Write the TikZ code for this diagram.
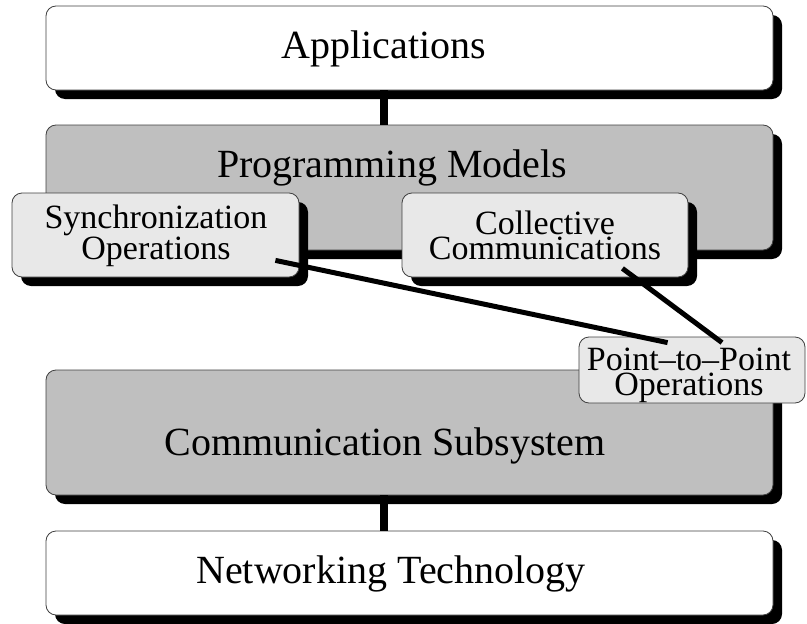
\documentclass[tikz,border=0pt]{standalone}
\usepackage{fontspec}
\setmainfont{Liberation Serif}
\usetikzlibrary{shadows}
\begin{document}
\begin{tikzpicture}[x=1pt, y=-1pt,
  layer/.style={draw=black!75, line width=0.8pt, rounded corners=10pt, inner sep=0pt},
  shadowed/.style={drop shadow={shadow xshift=9pt, shadow yshift=-9pt, fill=black, opacity=1}},
  bigbox/.style={layer, shadowed, minimum width=727pt},
  smallbox/.style={layer, fill=gray!18},
  big/.style={anchor=base, font=\fontsize{40}{48}\selectfont},
  small/.style={anchor=base, align=center, inner sep=0pt, font=\fontsize{34}{25}\selectfont},
  link/.style={line width=8pt},
  wire/.style={line width=5pt}]
\useasboundingbox (0,0) rectangle (807,624);

\node (app) at (409.5, 48) [bigbox, fill=white, minimum height=84pt] {};
\node (appt) at (384, 58) [big] {Applications};

\node (pm) at (409.5, 187.5) [bigbox, fill=gray!50, minimum height=125pt] {};
\node (pmt) at (392, 177) [big] {Programming Models};

\node (sync) at (155.5, 235) [smallbox, shadowed, minimum width=287pt, minimum height=84pt] {};
\node (synct) at (156, 259) [small] {Synchronization\\Operations};
\node (coll) at (545, 235) [smallbox, shadowed, minimum width=286pt, minimum height=84pt] {};
\node (collt) at (545, 259) [small] {Collective\\Communications};

\node (cs) at (409.5, 432.5) [bigbox, fill=gray!50, minimum height=125pt] {};
\node (cst) at (385, 455) [big] {Communication Subsystem};

\node (ptp) at (692, 370) [smallbox, minimum width=226pt, minimum height=66pt] {};
\node (ptpt) at (689, 395) [small] {Point--to--Point\\Operations};

\node (net) at (409.5, 573) [bigbox, fill=white, minimum height=84pt] {};
\node (nett) at (391, 583) [big] {Networking Technology};

\draw[link] ([xshift=-25.5pt]app.south) to ([xshift=-25.5pt]pm.north);
\draw[link] ([xshift=-25.5pt]cs.south) to ([xshift=-25.5pt]net.north);
\draw[wire] ([xshift=-24pt, yshift=17pt]sync.south east) to ([xshift=89pt, yshift=-6pt]ptp.north west);
\draw[wire] ([xshift=-66pt, yshift=9pt]coll.south east) to ([xshift=30pt, yshift=-6pt]ptp.north);
\end{tikzpicture}
\end{document}
